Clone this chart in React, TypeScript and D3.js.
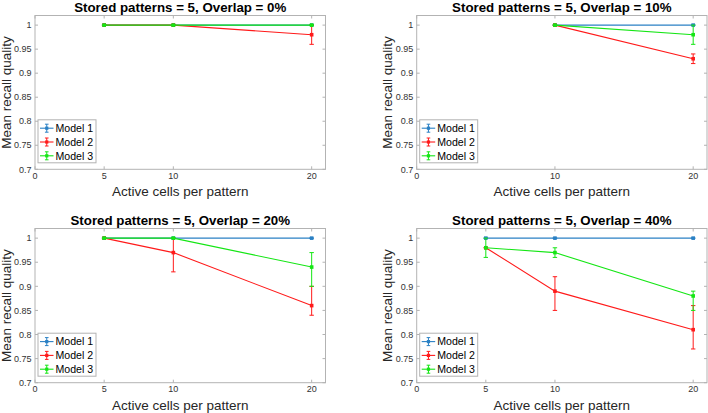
import React from 'react';
import * as d3 from 'd3';

// ---------- data ----------
const panelTitles = [
  'Stored patterns = 5, Overlap = 0%',
  'Stored patterns = 5, Overlap = 10%',
  'Stored patterns = 5, Overlap = 20%',
  'Stored patterns = 5, Overlap = 40%',
];
const modelNames = ['Model 1', 'Model 2', 'Model 3'];
const modelColors = ['#2a80c4', '#ff1a1a', '#14e614'];

const xTicksFull = [0, 5, 10, 20];
const xTicksNo5 = [0, 10, 20];
const yTicks = [0.7, 0.75, 0.8, 0.85, 0.9, 0.95, 1];
const yTickLabels = ['0.7', '0.75', '0.8', '0.85', '0.9', '0.95', '1'];

// Overlap = 0%
const p1X = [5, 10, 20];
const p1Mean = [[1, 1, 1], [1, 1, 0.98], [1, 1, 1]];
const p1Low = [[1, 1, 1], [1, 1, 0.96], [1, 1, 1]];
const p1High = [[1, 1, 1], [1, 1, 1.0], [1, 1, 1]];

// Overlap = 10%
const p2X = [10, 20];
const p2Mean = [[1, 1], [1, 0.93], [1, 0.98]];
const p2Low = [[1, 1], [1, 0.92], [1, 0.96]];
const p2High = [[1, 1], [1, 0.94], [1, 1.0]];

// Overlap = 20%
const p3X = [5, 10, 20];
const p3Mean = [[1, 1, 1], [1, 0.97, 0.86], [1, 1, 0.94]];
const p3Low = [[1, 1, 1], [1, 0.93, 0.84], [1, 1, 0.9]];
const p3High = [[1, 1, 1], [1, 1.0, 0.9], [1, 1, 0.97]];

// Overlap = 40%
const p4X = [5, 10, 20];
const p4Mean = [[1, 1, 1], [0.98, 0.89, 0.81], [0.98, 0.97, 0.88]];
const p4Low = [[1, 1, 1], [0.98, 0.85, 0.77], [0.96, 0.96, 0.85]];
const p4High = [[1, 1, 1], [0.98, 0.92, 0.86], [1.0, 0.98, 0.89]];

const panelX = [p1X, p2X, p3X, p4X];
const panelMean = [p1Mean, p2Mean, p3Mean, p4Mean];
const panelLow = [p1Low, p2Low, p3Low, p4Low];
const panelHigh = [p1High, p2High, p3High, p4High];
const panelXTicks = [xTicksFull, xTicksNo5, xTicksFull, xTicksFull];

// ---------- layout ----------
const W = 708;
const H = 413;
const boxes = [
  { l: 35, t: 15.5, r: 325.5, b: 169.3 },
  { l: 416.7, t: 15.5, r: 707, b: 169.3 },
  { l: 35, t: 228.5, r: 325.5, b: 382.7 },
  { l: 416.7, t: 228.5, r: 707, b: 382.7 },
];
const FONT = '"Liberation Sans", Arial, Helvetica, sans-serif';
const AXIS = '#b3b3b3';
const TICKTXT = '#333333';

function Panel({ idx }: { idx: number }) {
  const bx = boxes[idx];
  const x = d3.scaleLinear().domain([0, 21]).range([bx.l, bx.r]);
  const y = d3.scaleLinear().domain([0.7, 1.02]).range([bx.b, bx.t]);
  const xs = panelX[idx];
  const means = panelMean[idx];
  const lows = panelLow[idx];
  const highs = panelHigh[idx];
  const line = d3
    .line<number>()
    .x((_, i) => x(xs[i]))
    .y((d) => y(d));
  const tl = 3;
  const cap = 2.2;
  const cx = (bx.l + bx.r) / 2;
  const cy = (bx.t + bx.b) / 2;

  const lgX = bx.l + 3;
  const lgY = bx.b - 49.5;
  const lgW = 58;
  const lgH = 43;

  return (
    <g>
      <rect x={bx.l} y={bx.t} width={bx.r - bx.l} height={bx.b - bx.t} fill="#fff" stroke={AXIS} strokeWidth={1} />
      {/* x ticks */}
      {panelXTicks[idx].map((t) => (
        <g key={'xt' + t}>
          <line x1={x(t)} x2={x(t)} y1={bx.b} y2={bx.b - tl} stroke={AXIS} />
          <line x1={x(t)} x2={x(t)} y1={bx.t} y2={bx.t + tl} stroke={AXIS} />
          <text x={x(t)} y={bx.b + 9.3} fontSize={9} fill={TICKTXT} textAnchor="middle" fontFamily={FONT}>
            {t}
          </text>
        </g>
      ))}
      {/* y ticks */}
      {yTicks.map((t, i) => (
        <g key={'yt' + t}>
          <line x1={bx.l} x2={bx.l + tl} y1={y(t)} y2={y(t)} stroke={AXIS} />
          <line x1={bx.r} x2={bx.r - tl} y1={y(t)} y2={y(t)} stroke={AXIS} />
          <text x={bx.l - 3.5} y={y(t) + 3.2} fontSize={9} fill={TICKTXT} textAnchor="end" fontFamily={FONT}>
            {yTickLabels[i]}
          </text>
        </g>
      ))}
      {/* series */}
      {means.map((m, k) => (
        <g key={'s' + k} stroke={modelColors[k]} fill={modelColors[k]}>
          <path d={line(m) || ''} fill="none" strokeWidth={1.1} />
          {m.map((v, i) => (
            <g key={i}>
              <line x1={x(xs[i])} x2={x(xs[i])} y1={y(lows[k][i])} y2={y(highs[k][i])} strokeWidth={1} />
              <line x1={x(xs[i]) - cap} x2={x(xs[i]) + cap} y1={y(lows[k][i])} y2={y(lows[k][i])} strokeWidth={1} />
              <line x1={x(xs[i]) - cap} x2={x(xs[i]) + cap} y1={y(highs[k][i])} y2={y(highs[k][i])} strokeWidth={1} />
              <rect x={x(xs[i]) - 1.8} y={y(v) - 1.8} width={3.6} height={3.6} stroke="none" />
            </g>
          ))}
        </g>
      ))}
      {/* legend */}
      <rect x={lgX} y={lgY} width={lgW} height={lgH} fill="#fff" stroke={AXIS} strokeWidth={1} />
      {modelNames.map((n, k) => {
        const ry = lgY + 8.4 + k * 13.8;
        const ix1 = lgX + 2;
        const ix2 = lgX + 15.5;
        const im = (ix1 + ix2) / 2;
        return (
          <g key={'lg' + k}>
            <g stroke={modelColors[k]} fill={modelColors[k]}>
              <line x1={ix1} x2={ix2} y1={ry} y2={ry} strokeWidth={1.1} />
              <line x1={im} x2={im} y1={ry - 4} y2={ry + 4} />
              <line x1={im - 1.8} x2={im + 1.8} y1={ry - 4} y2={ry - 4} />
              <line x1={im - 1.8} x2={im + 1.8} y1={ry + 4} y2={ry + 4} />
              <rect x={im - 1.6} y={ry - 1.6} width={3.2} height={3.2} stroke="none" />
            </g>
            <text x={lgX + 17.5} y={ry + 3.8} fontSize={10.6} fill="#000" fontFamily={FONT}>
              {n}
            </text>
          </g>
        );
      })}
      {/* title & labels */}
      <text x={cx} y={bx.t - 3.8} fontSize={13.3} fontWeight="bold" fill="#000" textAnchor="middle" fontFamily={FONT}>
        {panelTitles[idx]}
      </text>
      <text x={cx} y={bx.b + 27} fontSize={13.5} fill="#262626" textAnchor="middle" fontFamily={FONT}>
        Active cells per pattern
      </text>
      <text
        transform={`translate(${bx.l - 24.5},${cy}) rotate(-90)`}
        fontSize={13.5}
        fill="#262626"
        textAnchor="middle"
        fontFamily={FONT}
      >
        Mean recall quality
      </text>
    </g>
  );
}

export default function App() {
  return (
    <svg
      width={W}
      height={H}
      viewBox={`0 0 ${W} ${H}`}
      style={{ position: 'absolute', left: 0, top: 0, background: '#fff' }}
    >
      <rect x={0} y={0} width={W} height={H} fill="#fff" />
      {[0, 1, 2, 3].map((i) => (
        <Panel key={i} idx={i} />
      ))}
    </svg>
  );
}
